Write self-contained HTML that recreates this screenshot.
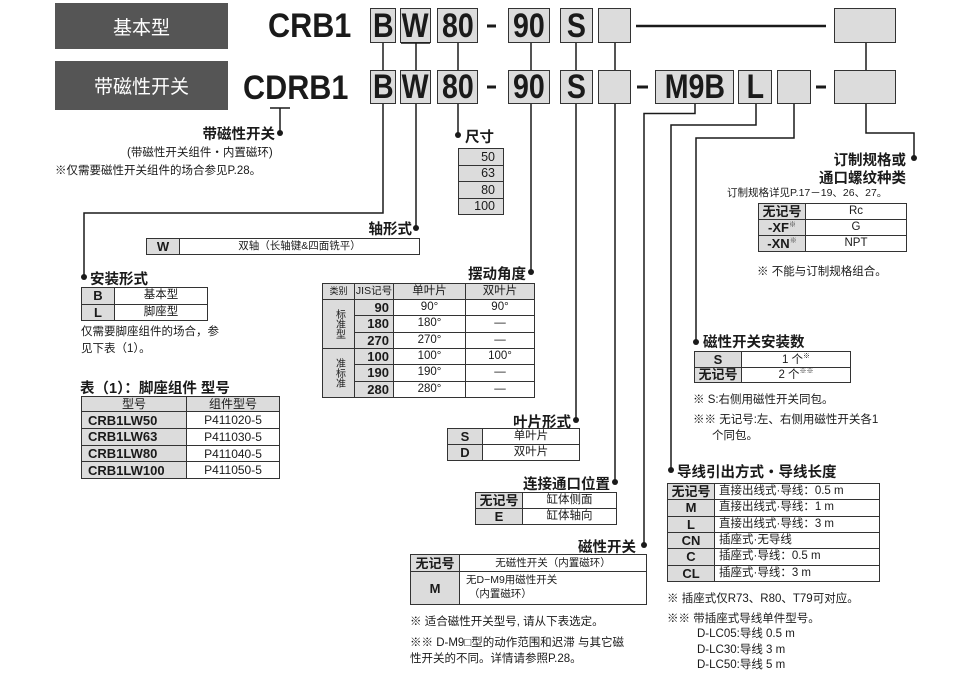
<!DOCTYPE html>
<html><head><meta charset="utf-8"><style>
body{margin:0;width:964px;height:675px;background:#fff;position:relative;overflow:hidden;font-family:"Liberation Sans","Noto Sans CJK SC",sans-serif;color:#1a1a1a}
.a{position:absolute;white-space:nowrap}
.lb{position:absolute;background:#555;color:#fff;font-size:19px;display:flex;align-items:center;justify-content:center}
.bx{position:absolute;background:#dcdcdc;border:1.5px solid #333;box-sizing:border-box;font-weight:bold;font-size:34px;display:flex;align-items:center;justify-content:center;line-height:1;transform-origin:center}
.bx span{display:inline-block;transform:scaleX(.84)}
.big{position:absolute;font-weight:bold;font-size:34px;line-height:1}
.big span{display:inline-block;transform:scaleX(.9);transform-origin:left}
.h{font-weight:bold;font-size:14.5px}
table{position:absolute;border-collapse:collapse;font-size:11.5px}
td{border:1.3px solid #333;padding:0;text-align:center;line-height:1}
td.g{background:#dcdcdc;font-weight:bold;font-size:13px}
td.gh{background:#dcdcdc}
.n{font-size:11.5px}
</style></head><body>
<div class="lb" style="left:55px;top:3px;width:173px;height:46px">基本型</div>
<div class="lb" style="left:55px;top:61px;width:173px;height:49px">带磁性开关</div>
<div class="big" style="left:268px;top:9px"><span>CRB1</span></div>
<div class="big" style="left:243px;top:71px"><span>CDRB1</span></div>

<div class="bx" style="left:370px;top:8px;width:26px;height:35px"><span>B</span></div>
<div class="bx" style="left:400px;top:8px;width:31px;height:35px"><span>W</span></div>
<div class="bx" style="left:437px;top:8px;width:41px;height:35px"><span>80</span></div>
<div class="bx" style="left:508px;top:8px;width:42px;height:35px"><span>90</span></div>
<div class="bx" style="left:560px;top:8px;width:33px;height:35px"><span>S</span></div>
<div class="bx" style="left:598px;top:8px;width:33px;height:35px"></div>
<div class="bx" style="left:834px;top:8px;width:62px;height:35px"></div>

<div class="bx" style="left:370px;top:70px;width:26px;height:34px"><span>B</span></div>
<div class="bx" style="left:400px;top:70px;width:31px;height:34px"><span>W</span></div>
<div class="bx" style="left:437px;top:70px;width:41px;height:34px"><span>80</span></div>
<div class="bx" style="left:508px;top:70px;width:42px;height:34px"><span>90</span></div>
<div class="bx" style="left:560px;top:70px;width:33px;height:34px"><span>S</span></div>
<div class="bx" style="left:598px;top:70px;width:33px;height:34px"></div>
<div class="bx" style="left:655px;top:70px;width:79px;height:34px"><span>M9B</span></div>
<div class="bx" style="left:738px;top:70px;width:34px;height:34px"><span>L</span></div>
<div class="bx" style="left:777px;top:70px;width:34px;height:34px"></div>
<div class="bx" style="left:834px;top:70px;width:62px;height:34px"></div>

<svg class="a" style="left:0;top:0" width="964" height="675">
<g stroke="#1a1a1a" stroke-width="1.5" fill="none">
<line x1="487" y1="26" x2="496" y2="26" stroke-width="3"/>
<line x1="487" y1="87" x2="496" y2="87" stroke-width="3"/>
<line x1="636" y1="26" x2="826" y2="26" stroke-width="2.5"/>
<line x1="637" y1="87" x2="648" y2="87" stroke-width="3"/>
<line x1="816" y1="87" x2="826" y2="87" stroke-width="3"/>
<line x1="270" y1="108" x2="290" y2="108"/>
<line x1="401" y1="43" x2="430" y2="43"/>
<polyline points="383,43 383,70"/><polyline points="416,43 416,70"/><polyline points="458,43 458,70"/>
<polyline points="531,43 531,70"/><polyline points="576,43 576,70"/><polyline points="615,43 615,70"/>
<polyline points="866,43 866,70"/>
<polyline points="280,108 280,133"/>
<polyline points="383,104 383,213 84,213 84,277"/>
<polyline points="416,104 416,228"/>
<polyline points="458,104 458,135"/>
<polyline points="531,104 531,272"/>
<polyline points="576,104 576,420"/>
<polyline points="615,104 615,482"/>
<polyline points="695,104 695,113.5 644,113.5 644,545"/>
<polyline points="756,104 756,125 671,125 671,470"/>
<polyline points="794,104 794,138 696,138 696,342"/>
<polyline points="866,104 866,133 914,133 914,158"/>
</g>
<g fill="#1a1a1a">
<circle cx="280" cy="133" r="3"/><circle cx="84" cy="277" r="3"/><circle cx="416" cy="228" r="3"/>
<circle cx="458" cy="135" r="3"/><circle cx="531" cy="272" r="3"/><circle cx="576" cy="420" r="3"/>
<circle cx="615" cy="482" r="3"/><circle cx="644" cy="545" r="3"/><circle cx="671" cy="470" r="3"/>
<circle cx="696" cy="342" r="3"/><circle cx="914" cy="158" r="3"/>
</g></svg>

<div class="a h" style="right:689px;top:123px">带磁性开关</div>
<div class="a n" style="left:127px;top:144px">(带磁性开关组件・内置磁环)</div>
<div class="a n" style="left:55px;top:162px">※仅需要磁性开关组件的场合参见P.28。</div>

<div class="a h" style="left:465px;top:126px">尺寸</div>
<table style="left:458px;top:148px;width:46px;height:67px;font-size:12.5px"><tr><td class="gh" style="text-align:right;padding-right:8px">50</td></tr><tr><td class="gh" style="text-align:right;padding-right:8px">63</td></tr><tr><td class="gh" style="text-align:right;padding-right:8px">80</td></tr><tr><td class="gh" style="text-align:right;padding-right:8px">100</td></tr></table>

<div class="a h" style="right:552px;top:218px">轴形式</div>
<table style="left:146px;top:238px;width:274px;height:17px"><tr><td class="g" style="width:32px">W</td><td style="font-size:10.5px">双轴（长轴键&amp;四面铣平）</td></tr></table>

<div class="a h" style="left:90px;top:268px">安装形式</div>
<table style="left:81px;top:287px;width:127px;height:34px"><tr><td class="g" style="width:32px">B</td><td>基本型</td></tr><tr><td class="g">L</td><td>脚座型</td></tr></table>
<div class="a n" style="left:81px;top:323px">仅需要脚座组件的场合，参</div>
<div class="a n" style="left:81px;top:340px">见下表（1）。</div>

<div class="a h" style="left:80px;top:377px">表（1）：脚座组件 型号</div>
<table style="left:81px;top:396px;width:199px;height:83px;font-size:12px"><tr><td class="gh">型号</td><td class="gh">组件型号</td></tr>
<tr><td class="g" style="width:98px;text-align:left;padding-left:6px">CRB1LW50</td><td>P411020-5</td></tr>
<tr><td class="g" style="text-align:left;padding-left:6px">CRB1LW63</td><td>P411030-5</td></tr>
<tr><td class="g" style="text-align:left;padding-left:6px">CRB1LW80</td><td>P411040-5</td></tr>
<tr><td class="g" style="text-align:left;padding-left:6px">CRB1LW100</td><td>P411050-5</td></tr></table>

<div class="a h" style="right:438px;top:263px">摆动角度</div>
<table style="left:322px;top:283px;width:213px;height:115px"><tr style="height:16px"><td class="gh" style="width:31px;font-size:9px">类别</td><td class="gh" style="width:38px;font-size:10.5px">JIS记号</td><td class="gh" style="width:71px">单叶片</td><td class="gh">双叶片</td></tr>
<tr><td class="gh" rowspan="3" style="font-size:10px;writing-mode:vertical-rl">标准型</td><td class="g" style="text-align:right;padding-right:4px">90</td><td>90°</td><td>90°</td></tr>
<tr><td class="g" style="text-align:right;padding-right:4px">180</td><td>180°</td><td>—</td></tr>
<tr><td class="g" style="text-align:right;padding-right:4px">270</td><td>270°</td><td>—</td></tr>
<tr><td class="gh" rowspan="3" style="font-size:10px;writing-mode:vertical-rl">准标准</td><td class="g" style="text-align:right;padding-right:4px">100</td><td>100°</td><td>100°</td></tr>
<tr><td class="g" style="text-align:right;padding-right:4px">190</td><td>190°</td><td>—</td></tr>
<tr><td class="g" style="text-align:right;padding-right:4px">280</td><td>280°</td><td>—</td></tr></table>

<div class="a h" style="right:393px;top:411px">叶片形式</div>
<table style="left:447px;top:428px;width:133px;height:33px"><tr><td class="g" style="width:34px">S</td><td>单叶片</td></tr><tr><td class="g">D</td><td>双叶片</td></tr></table>

<div class="a h" style="right:354px;top:473px">连接通口位置</div>
<table style="left:475px;top:492px;width:142px;height:33px"><tr><td class="g" style="width:46px">无记号</td><td>缸体侧面</td></tr><tr><td class="g">E</td><td>缸体轴向</td></tr></table>

<div class="a h" style="right:328px;top:536px">磁性开关</div>
<table style="left:410px;top:554px;width:237px;height:51px"><tr style="height:17px"><td class="g" style="width:48px">无记号</td><td style="font-size:10.5px">无磁性开关（内置磁环）</td></tr><tr><td class="g">M</td><td style="text-align:left;padding-left:6px;font-size:10.5px;line-height:1.3">无D−M9用磁性开关<br>&nbsp;（内置磁环）</td></tr></table>
<div class="a n" style="left:410px;top:613px">※  适合磁性开关型号, 请从下表选定。</div>
<div class="a n" style="left:410px;top:634px">※※ D-M9□型的动作范围和迟滞 与其它磁</div>
<div class="a n" style="left:410px;top:650px">性开关的不同。详情请参照P.28。</div>

<div class="a h" style="left:677px;top:461px">导线引出方式・导线长度</div>
<table style="left:667px;top:483px;width:213px;height:99px"><tr><td class="g" style="width:46px">无记号</td><td style="text-align:left;padding-left:4px">直接出线式·导线：0.5 m</td></tr>
<tr><td class="g">M</td><td style="text-align:left;padding-left:4px">直接出线式·导线：1 m</td></tr>
<tr><td class="g">L</td><td style="text-align:left;padding-left:4px">直接出线式·导线：3 m</td></tr>
<tr><td class="g">CN</td><td style="text-align:left;padding-left:4px">插座式·无导线</td></tr>
<tr><td class="g">C</td><td style="text-align:left;padding-left:4px">插座式·导线：0.5 m</td></tr>
<tr><td class="g">CL</td><td style="text-align:left;padding-left:4px">插座式·导线：3 m</td></tr></table>
<div class="a n" style="left:667px;top:590px">※ 插座式仅R73、R80、T79可对应。</div>
<div class="a n" style="left:667px;top:610px">※※ 带插座式导线单件型号。</div>
<div class="a n" style="left:697px;top:625px">D-LC05:导线 0.5 m</div>
<div class="a n" style="left:697px;top:641px">D-LC30:导线 3 m</div>
<div class="a n" style="left:697px;top:656px">D-LC50:导线 5 m</div>

<div class="a h" style="left:703px;top:331px">磁性开关安装数</div>
<table style="left:694px;top:351px;width:157px;height:32px"><tr><td class="g" style="width:46px">S</td><td>1 个<sup style="font-size:7px">※</sup></td></tr><tr><td class="g">无记号</td><td>2 个<sup style="font-size:7px">※※</sup></td></tr></table>
<div class="a n" style="left:693px;top:391px">※ S:右侧用磁性开关同包。</div>
<div class="a n" style="left:693px;top:411px">※※ 无记号:左、右侧用磁性开关各1</div>
<div class="a n" style="left:712px;top:427px">个同包。</div>

<div class="a h" style="right:58px;top:149px">订制规格或</div>
<div class="a h" style="right:58px;top:167px">通口螺纹种类</div>
<div class="a" style="left:727px;top:185px;font-size:10.5px">订制规格详见P.17－19、26、27。</div>
<table style="left:758px;top:203px;width:149px;height:49px"><tr><td class="g" style="width:46px">无记号</td><td>Rc</td></tr><tr><td class="g">-XF<sup style="font-size:7px;font-weight:normal">※</sup></td><td>G</td></tr><tr><td class="g">-XN<sup style="font-size:7px;font-weight:normal">※</sup></td><td>NPT</td></tr></table>
<div class="a n" style="left:757px;top:263px">※ 不能与订制规格组合。</div>
</body></html>
